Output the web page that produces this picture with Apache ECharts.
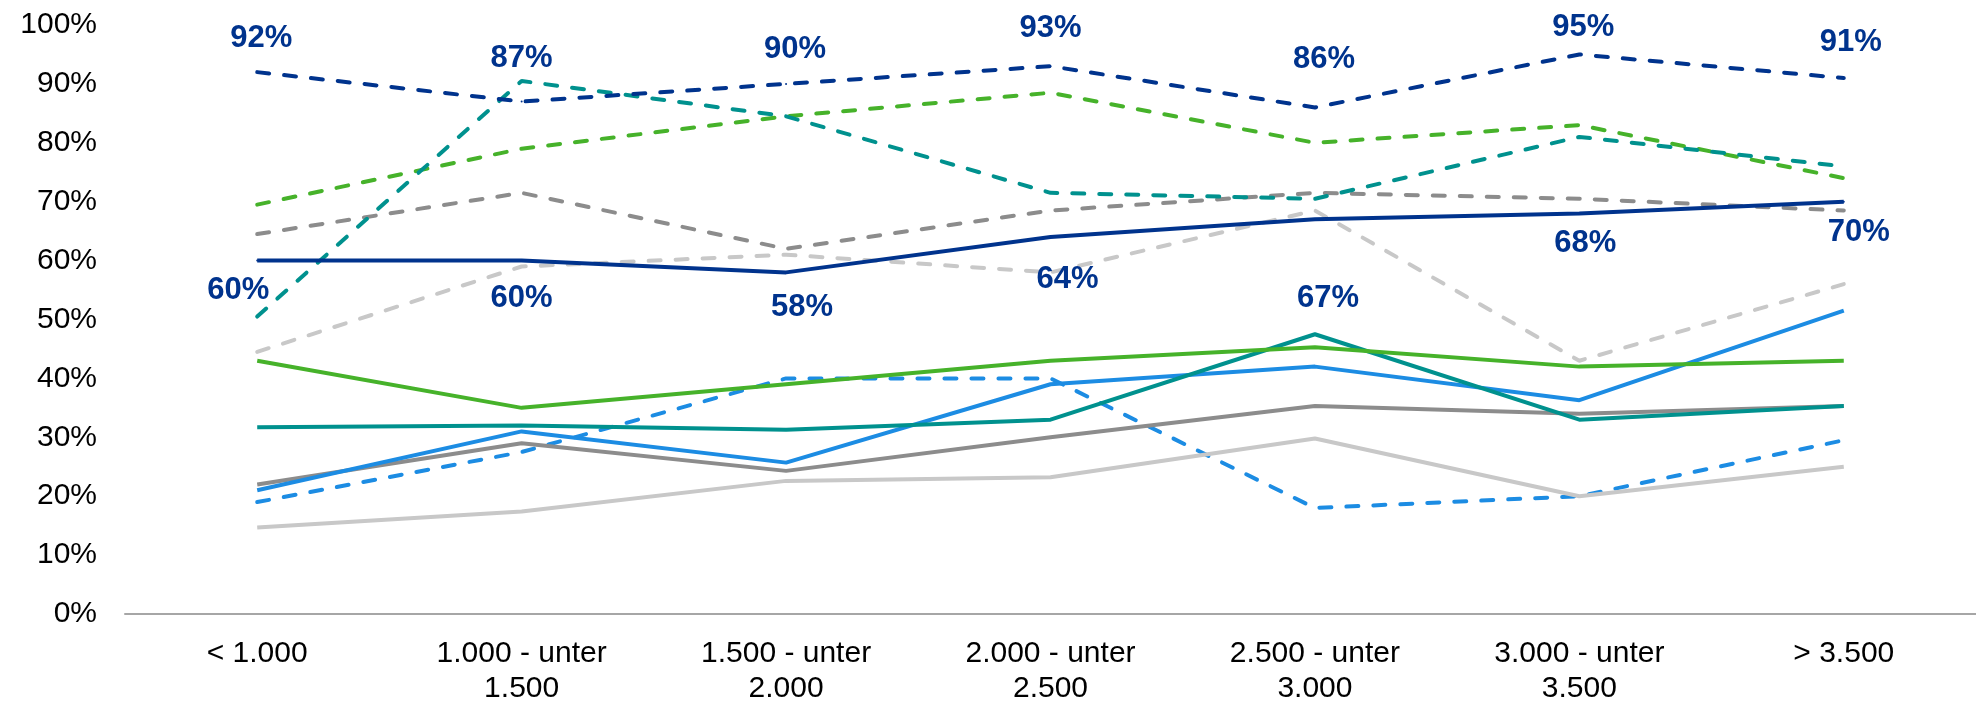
<!DOCTYPE html>
<html>
<head>
<meta charset="utf-8">
<script src="https://cdn.jsdelivr.net/npm/echarts@6/dist/echarts.min.js"></script>
<style>
  html, body { margin: 0; padding: 0; background: #fff; }
  #chart { width: 1976px; height: 706px; }
</style>
</head>
<body>
<div id="chart"></div>
<script>
// Income brackets on the category axis
const categories = ['< 1.000', '1.000 - unter\n1.500', '1.500 - unter\n2.000', '2.000 - unter\n2.500', '2.500 - unter\n3.000', '3.000 - unter\n3.500', '> 3.500'];

// Percent-axis ticks
const yMin = 0;
const yMax = 100;
const yStep = 10;

// Values in percent, one per bracket
const navyDashed      = [92, 87, 90, 93, 86, 95, 91];
const navySolid       = [60, 60, 58, 64, 67, 68, 70];
const tealDashed      = [50.5, 90.5, 84.5, 71.5, 70.5, 81, 76];
const greenDashed     = [69.5, 79, 84.5, 88.5, 80, 83, 74];
const darkGreyDashed  = [64.5, 71.5, 62, 68.5, 71.5, 70.5, 68.5];
const lightGreyDashed = [44.5, 59, 61, 58, 68.5, 43, 56];
const blueDashed      = [19, 27.5, 40, 40, 18, 20, 29.5];
const greenSolid      = [43, 35, 39, 43, 45.3, 42, 43];
const tealSolid       = [31.7, 32, 31.3, 33, 47.5, 33, 35.3];
const blueSolid       = [21, 31, 25.7, 39, 42, 36.3, 51.5];
const darkGreySolid   = [22, 29, 24.3, 30, 35.3, 34, 35.3];
const lightGreySolid  = [14.7, 17.4, 22.6, 23.2, 29.8, 20, 25];

// Label placement (pixel offsets of each value label from its point)
const upperLabelShift = [[4, -34], [0, -43], [9, -34], [0, -38], [9, -48], [4, -27], [7, -36]];
const lowerLabelShift = [[-19, 30], [0, 38], [16, 35], [17, 42], [13, 79], [6, 30], [15, 31]];

const FONT = "'Liberation Sans', Arial, sans-serif";
const NAVY = '#00338D';
const TEAL = '#00918E';
const GREEN = '#46B22A';
const BLUE = '#1C8CE3';
const DARK_GREY = '#8C8C8C';
const LIGHT_GREY = '#C8C8C8';
const DASH = [12, 15];

function line(name, values, color, dashed, z) {
  return {
    name: name,
    type: 'line',
    data: values,
    symbol: 'none',
    z: z,
    lineStyle: { color: color, width: 4, type: dashed ? DASH : 'solid', cap: dashed ? 'round' : 'butt' },
    itemStyle: { color: color },
    emphasis: { disabled: true },
    animation: false
  };
}

function labelled(name, values, color, dashed, shifts, z) {
  const s = line(name, values, color, dashed, z);
  s.symbol = 'circle';
  s.symbolSize = 2;
  s.showSymbol = true;
  s.data = values.map((v, i) => ({
    value: v,
    label: {
      show: true,
      position: 'inside',
      offset: shifts[i],
      formatter: p => Math.round(p.value) + '%',
      color: NAVY,
      fontFamily: FONT,
      fontWeight: 'bold',
      fontSize: 31
    }
  }));
  return s;
}

const chart = echarts.init(document.getElementById('chart'), null, { renderer: 'canvas' });
chart.setOption({
  backgroundColor: '#ffffff',
  animation: false,
  grid: { left: 125, right: -20, top: 25, bottom: 89, containLabel: false },
  xAxis: {
    type: 'category',
    data: categories,
    boundaryGap: true,
    axisLine: { show: true, lineStyle: { color: '#A6A6A6', width: 2 } },
    axisTick: { show: false },
    splitLine: { show: false },
    axisLabel: {
      color: '#000000',
      fontFamily: FONT,
      fontSize: 30,
      lineHeight: 35,
      margin: 22,
      interval: 0
    }
  },
  yAxis: {
    type: 'value',
    min: yMin,
    max: yMax,
    interval: yStep,
    axisLine: { show: false },
    axisTick: { show: false },
    splitLine: { show: false },
    axisLabel: {
      color: '#000000',
      fontFamily: FONT,
      fontSize: 30,
      margin: 28,
      formatter: '{value}%'
    }
  },
  series: [
    line('Hellgrau gestrichelt', lightGreyDashed, LIGHT_GREY, true, 2),
    line('Dunkelgrau gestrichelt', darkGreyDashed, DARK_GREY, true, 2),
    line('Grün gestrichelt', greenDashed, GREEN, true, 2),
    line('Petrol gestrichelt', tealDashed, TEAL, true, 2),
    line('Blau gestrichelt', blueDashed, BLUE, true, 2),
    line('Hellgrau', lightGreySolid, LIGHT_GREY, false, 2),
    line('Dunkelgrau', darkGreySolid, DARK_GREY, false, 2),
    line('Blau', blueSolid, BLUE, false, 2),
    line('Petrol', tealSolid, TEAL, false, 2),
    line('Grün', greenSolid, GREEN, false, 2),
    labelled('Dunkelblau gestrichelt', navyDashed, NAVY, true, upperLabelShift, 3),
    labelled('Dunkelblau', navySolid, NAVY, false, lowerLabelShift, 3)
  ]
});
</script>
</body>
</html>
